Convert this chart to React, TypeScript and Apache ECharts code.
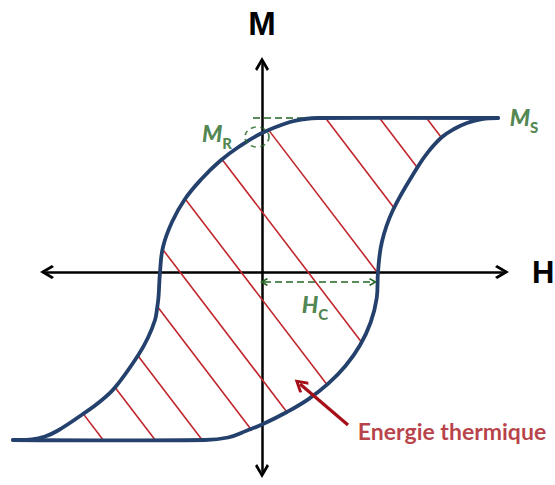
import React, { useEffect, useRef } from 'react';
import * as echarts from 'echarts';

// Hysteresis loop (H, M in arbitrary units)
const descendingH = [23.6, 5.6, 4.3, 2.8, 0, -2.2, -4.2, -6.05, -7.7, -9.0, -9.9, -10.2, -10.35, -10.5, -10.7, -11.43, -12.4, -14.7, -16.22, -17.9, -20.4, -21.7, -23.0, -24.9];
const descendingM = [15.4, 15.4, 15.3, 15.0, 13.9, 12.6, 11.1, 9.3, 7.3, 5.0, 2.5, 0, -2.5, -3.7, -4.8, -6.63, -8.35, -11.55, -12.97, -14.2, -15.85, -16.45, -16.75, -16.8];
const ascendingH = [-24.9, -5.7, -3.4, -1.5, 0, 2.5, 4.65, 6.62, 8.36, 9.8, 10.86, 11.47, 11.6, 12.0, 13.1, 15.5, 16.64, 18.0, 19.2, 20.5, 22.0, 23.6];
const ascendingM = [-16.8, -16.8, -16.55, -15.85, -15.25, -14.0, -12.71, -11.17, -9.37, -7.32, -5.05, -2.62, 0, 3.05, 6.2, 10.4, 12.04, 13.5, 14.3, 14.9, 15.3, 15.4];

// hatch lines: where each crosses the H axis, and their slope
const hatchInterceptsH = [-28.7, -23.5, -18.8, -13.1, -8.2, -2.1, 4.6, 11.5, 18.1, 23.5, 28.2];
const hatchSlope = -1.31;

// annotations
const remanenceGuideH = [-0.9, 5.6];
const remanenceGuideM = 15.4;
const remanenceMarker = [-0.5, 13.5];
const coerciveArrowH = [0.2, 11.1];
const coerciveArrowM = -1.0;
const energyArrowH = [8.6, 3.8];
const energyArrowM = [-15.3, -11.2];
const annotationTexts = ['{m|M}{s|R}', '{m|M}{s|S}', '{m|H}{s|C}', '{e|Energie thermique}'];
const annotationH = [-4.5, 26.2, 5.3, 19.0];
const annotationM = [13.86, 15.46, -3.21, -15.9];
const axisNames = ['H', 'M'];
const hExtent = [-21.5, 24.0];
const mExtent = [-19.9, 20.8];

const CHEVRON = 'path://M5,0L10,8.5L8.5,10L5,4L1.5,10L0,8.5Z';
const BLUE = '#24406c';
const RED = '#c0272d';
const DARKRED = '#a60f18';
const GREEN = '#236623';

const zip = (a: number[], b: number[]) => a.map((v, i) => [v, b[i]]);

function buildHatch(poly: number[][]) {
  const k = hatchSlope;
  const ext = 0.09;
  const out: any[] = [];
  hatchInterceptsH.forEach((x0) => {
    const hits: number[] = [];
    for (let i = 0; i < poly.length; i++) {
      const a = poly[i];
      const b = poly[(i + 1) % poly.length];
      const ex = b[0] - a[0];
      const ey = b[1] - a[1];
      const den = k * ex - ey;
      if (Math.abs(den) < 1e-12) continue;
      const u = (a[1] - k * (a[0] - x0)) / den;
      if (u >= 0 && u < 1) hits.push(a[0] + u * ex - x0);
    }
    hits.sort((p, q) => p - q);
    for (let i = 0; i + 1 < hits.length; i += 2) {
      const s1 = hits[i] - ext;
      const s2 = hits[i + 1] + ext;
      out.push({ coords: [[x0 + s1, k * s1], [x0 + s2, k * s2]] });
    }
  });
  return out;
}

export default function App() {
  const ref = useRef<HTMLDivElement>(null);
  useEffect(() => {
    if (!ref.current) return;
    const chart = echarts.init(ref.current, undefined, { renderer: 'svg' });
    const upper = zip(descendingH, descendingM);
    const lower = zip(ascendingH, ascendingM);
    const poly = [...upper, ...lower.slice(1, -1)];
    const hatch = buildHatch(poly);

    const nameFont = '"Liberation Sans", Arial, sans-serif';
    const axisCommon = {
      type: 'value' as const,
      nameLocation: 'end' as const,
      axisLine: {
        show: true,
        onZero: true,
        symbol: [CHEVRON, CHEVRON],
        symbolSize: [14, 14],
        lineStyle: { color: '#000', width: 2.5 },
      },
      axisTick: { show: false },
      axisLabel: { show: false },
      splitLine: { show: false },
    };
    const font = 'Lato, "Open Sans", sans-serif';

    chart.setOption({
      animation: false,
      backgroundColor: '#fff',
      grid: { left: 47, right: 53, top: 64, bottom: 14, containLabel: false, outerBoundsMode: 'none' },
      xAxis: {
        ...axisCommon,
        min: hExtent[0],
        max: hExtent[1],
        name: axisNames[0],
        nameGap: 30,
        nameTextStyle: { fontSize: 31, fontWeight: 'bold', fontFamily: nameFont, color: '#000' },
      },
      yAxis: {
        ...axisCommon,
        min: mExtent[0],
        max: mExtent[1],
        name: axisNames[1],
        nameGap: 24,
        nameTextStyle: { fontSize: 33, fontWeight: 'bold', fontFamily: nameFont, color: '#000' },
      },
      series: [
        {
          type: 'lines',
          coordinateSystem: 'cartesian2d',
          data: hatch,
          z: 1,
          silent: true,
          lineStyle: { color: RED, width: 1.6, opacity: 1 },
        },
        {
          type: 'custom',
          coordinateSystem: 'cartesian2d',
          data: [[0, 0]],
          clip: false,
          z: 3,
          silent: true,
          renderItem: (_params: any, api: any) => ({
            type: 'group',
            children: [upper, lower].map((branch) => ({
              type: 'polyline',
              shape: { points: branch.map((p) => api.coord(p)), smooth: 0.4 },
              style: { stroke: BLUE, lineWidth: 3.8, fill: null, lineCap: 'round', lineJoin: 'round' },
            })),
          }),
        },
        {
          type: 'line',
          data: remanenceGuideH.map((h) => [h, remanenceGuideM]),
          showSymbol: false,
          z: 2,
          silent: true,
          lineStyle: { color: GREEN, width: 1.6, type: [7, 4] },
        },
        {
          type: 'scatter',
          data: [remanenceMarker],
          symbol: 'circle',
          symbolSize: [24, 20],
          z: 4,
          silent: true,
          itemStyle: { color: 'rgba(0,0,0,0)', borderColor: GREEN, borderWidth: 1.6, borderType: [5, 4] },
        },
        {
          type: 'lines',
          coordinateSystem: 'cartesian2d',
          data: [{ coords: coerciveArrowH.map((h) => [h, coerciveArrowM]) }],
          symbol: [CHEVRON, CHEVRON],
          symbolSize: 8,
          z: 4,
          silent: true,
          lineStyle: { color: GREEN, width: 1.6, type: [7, 4], opacity: 1 },
        },
        {
          type: 'lines',
          coordinateSystem: 'cartesian2d',
          data: [{ coords: zip(energyArrowH, energyArrowM) }],
          symbol: ['none', CHEVRON],
          symbolSize: 14,
          z: 5,
          silent: true,
          lineStyle: { color: DARKRED, width: 3.2, opacity: 1 },
        },
        {
          type: 'scatter',
          data: annotationTexts.map((t, i) => ({ value: [annotationH[i], annotationM[i]], text: t })),
          symbolSize: 1,
          clip: false,
          z: 6,
          silent: true,
          itemStyle: { color: 'rgba(0,0,0,0)' },
          label: {
            show: true,
            position: 'inside',
            formatter: (p: any) => p.data.text,
            rich: {
              m: { fontFamily: font, fontSize: 23, lineHeight: 23, fontWeight: 900, fontStyle: 'italic', color: GREEN, verticalAlign: 'top' },
              s: { fontFamily: font, fontSize: 15, lineHeight: 15, fontWeight: 900, color: GREEN, padding: [14, 0, 0, 0], verticalAlign: 'top' },
              e: { fontFamily: font, fontSize: 23, lineHeight: 23, fontWeight: 'bold', color: DARKRED },
            },
          },
        },
      ],
    });
    return () => chart.dispose();
  }, []);
  return <div ref={ref} style={{ position: 'fixed', left: 0, top: 0, width: 555, height: 485 }} />;
}
